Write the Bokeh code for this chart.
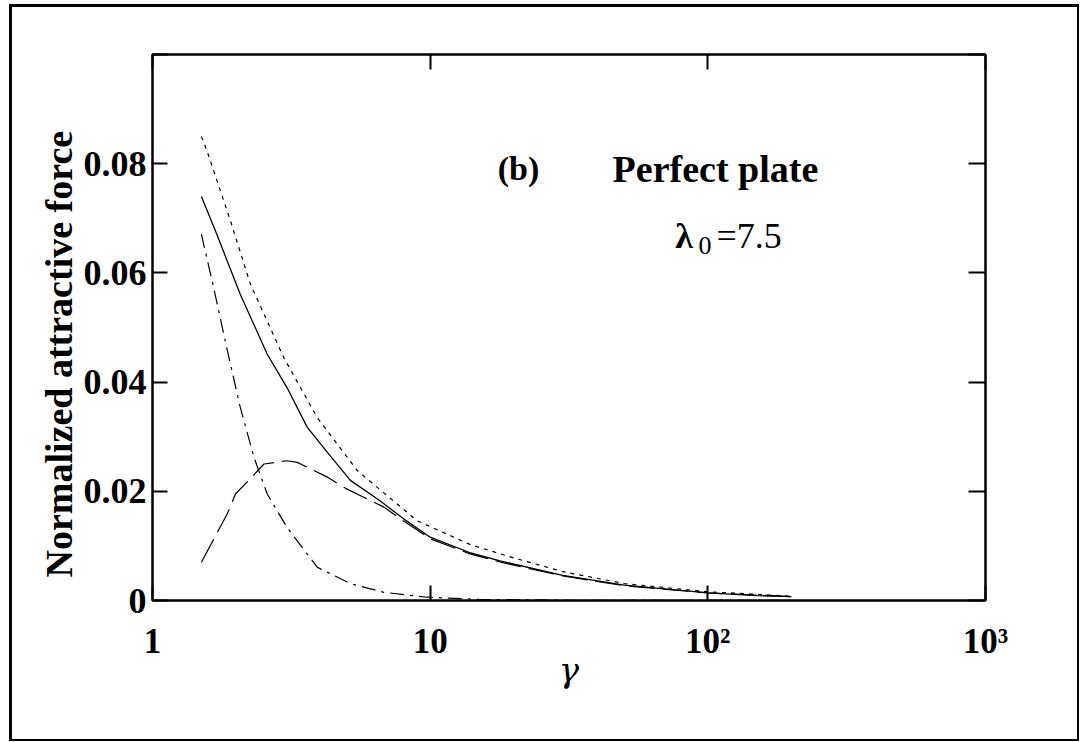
from bokeh.plotting import figure
from bokeh.models import (FixedTicker, LinearAxis, LogAxis, Label, Range1d, Title, InlineStyleSheet)
from bokeh.embed import file_html
from bokeh.resources import INLINE

# ---------------- data ----------------
gamma_total = [1.5, 1.7, 2.07, 2.59, 3.05, 3.61, 4.3, 5.16, 6.5, 8.0, 10, 14, 18, 30, 50, 100, 150, 200]
force_total = [0.0740, 0.0672, 0.0561, 0.0451, 0.0390, 0.0317, 0.0269, 0.0220, 0.0185, 0.0150,
               0.0116, 0.0087, 0.0072, 0.0046, 0.0028, 0.0014, 0.0009, 0.0007]

gamma_dotted = [1.5, 1.57, 1.91, 2.25, 2.97, 3.92, 5.46, 8.98, 14, 20, 30, 50, 100, 200]
force_dotted = [0.0850, 0.0824, 0.0695, 0.0580, 0.0445, 0.0335, 0.0238, 0.0146, 0.0102,
                0.0078, 0.0053, 0.0031, 0.0016, 0.0008]

gamma_dashdot = [1.5, 1.66, 1.86, 2.07, 2.32, 2.59, 3.05, 3.92, 5.16, 6.81, 9.75, 15, 30, 60, 100, 200]
force_dashdot = [0.0671, 0.0573, 0.0458, 0.0354, 0.0262, 0.0195, 0.0134, 0.0061, 0.0031, 0.0015,
                 0.0006, 0.0002, 0.00005, 0.00002, 0.00001, 0.00001]

gamma_longdash = [1.5, 1.86, 1.99, 2.25, 2.52, 3.05, 3.32, 4.26, 5.02, 6.81, 8.0, 10, 14, 18, 30, 50, 100, 200]
force_longdash = [0.0070, 0.0159, 0.0195, 0.0223, 0.0250, 0.0256, 0.0253, 0.0226, 0.0204, 0.0171,
                  0.0146, 0.0113, 0.0085, 0.0070, 0.0045, 0.0027, 0.0014, 0.0007]

x_ticks = [1, 10, 100, 1000]
x_tick_labels = {1: "1", 10: "10", 100: "10²", 1000: "10³"}
y_ticks = [0, 0.02, 0.04, 0.06, 0.08, 0.1]
y_tick_labels = {0: "0", 0.02: "0.02", 0.04: "0.04", 0.06: "0.06", 0.08: "0.08", 0.1: ""}

SERIF = "Liberation Serif"
SERIF_REG = "Times New Roman"

frame_css = InlineStyleSheet(css="""
:host { position: relative; }
:host::after {
  content: "";
  position: absolute;
  left: 9px; top: 4px; right: 2px; bottom: 1px;
  border: 2px solid black;
  border-left-width: 3px; border-top-width: 3px;
  pointer-events: none;
}
""")

p = figure(width=1081, height=742, x_axis_type="log",
           x_range=Range1d(1, 1000), y_range=Range1d(0, 0.1),
           output_backend="svg", toolbar_location=None,
           min_border_left=152, min_border_right=96, min_border_top=54, min_border_bottom=142,
           stylesheets=[frame_css])
p.background_fill_color = "white"
p.border_fill_color = "white"
p.grid.visible = False
p.outline_line_color = "black"
p.outline_line_width = 2

# curves
p.line(gamma_dotted, force_dotted, line_color="black", line_width=1.2, line_dash="4 5")
p.line(gamma_total, force_total, line_color="black", line_width=1.3)
p.line(gamma_dashdot, force_dashdot, line_color="black", line_width=1.2, line_dash="14 6 3 6")
p.line(gamma_longdash, force_longdash, line_color="black", line_width=1.2, line_dash="26 8")

# axes
xa = p.xaxis[0]
xa.ticker = FixedTicker(ticks=x_ticks, minor_ticks=[])
xa.major_label_overrides = x_tick_labels
xa.major_label_text_font = SERIF
xa.major_label_text_font_style = "bold"
xa.major_label_text_font_size = "35px"
xa.major_label_text_color = "black"
xa.major_label_standoff = 21
xa.major_tick_in = 15
xa.major_tick_out = 0
xa.minor_tick_in = 0
xa.minor_tick_out = 0
xa.axis_line_width = 2
xa.major_tick_line_width = 2
xa.axis_label = "γ"
xa.axis_label_text_font = "DejaVu Serif"
xa.axis_label_text_font_style = "italic"
xa.axis_label_text_font_size = "34px"
xa.axis_label_text_color = "black"
xa.axis_label_standoff = -14

ya = p.yaxis[0]
ya.ticker = FixedTicker(ticks=y_ticks, minor_ticks=[])
ya.major_label_overrides = y_tick_labels
ya.major_label_text_font = SERIF
ya.major_label_text_font_style = "bold"
ya.major_label_text_font_size = "36px"
ya.major_label_text_color = "black"
ya.major_label_standoff = 6
ya.major_tick_in = 15
ya.major_tick_out = 0
ya.minor_tick_in = 0
ya.minor_tick_out = 0
ya.axis_line_width = 2
ya.major_tick_line_width = 2

top = LogAxis(ticker=FixedTicker(ticks=x_ticks, minor_ticks=[]), major_label_text_color=None,
              major_tick_in=15, major_tick_out=0, minor_tick_in=0, minor_tick_out=0,
              axis_line_width=2, major_tick_line_width=2)
p.add_layout(top, "above")
right = LinearAxis(ticker=FixedTicker(ticks=y_ticks, minor_ticks=[]), major_label_text_color=None,
                   major_tick_in=17, major_tick_out=0, minor_tick_in=0, minor_tick_out=0,
                   axis_line_width=2, major_tick_line_width=2)
p.add_layout(right, "right")

# y axis title, placed like the original (starts a little above the frame bottom)
p.add_layout(Title(text="Normalized attractive force", align="left", offset=23, standoff=2,
                   text_font=SERIF, text_font_style="bold", text_font_size="38px",
                   text_color="black"), "left")

# annotations
p.add_layout(Label(x=17.5, y=0.0791, text="(b)", text_font=SERIF, text_font_style="bold",
                   text_font_size="34px", text_baseline="alphabetic", text_color="black"))
p.add_layout(Label(x=45.4, y=0.0791, text="Perfect plate", text_font=SERIF, text_font_style="bold",
                   text_font_size="38px", text_baseline="alphabetic", text_color="black"))
p.add_layout(Label(x=76.4, y=0.0668, text="λ", text_font=SERIF, text_font_style="bold",
                   text_font_size="36px", text_baseline="alphabetic", text_color="black"))
p.add_layout(Label(x=92.5, y=0.0650, text="0", text_font=SERIF_REG,
                   text_font_size="26px", text_baseline="alphabetic", text_color="black"))
p.add_layout(Label(x=107.4, y=0.0668, text="=7.5", text_font=SERIF_REG,
                   text_font_size="36px", text_baseline="alphabetic", text_color="black"))

open("out.html", "w").write(file_html(p, INLINE))
